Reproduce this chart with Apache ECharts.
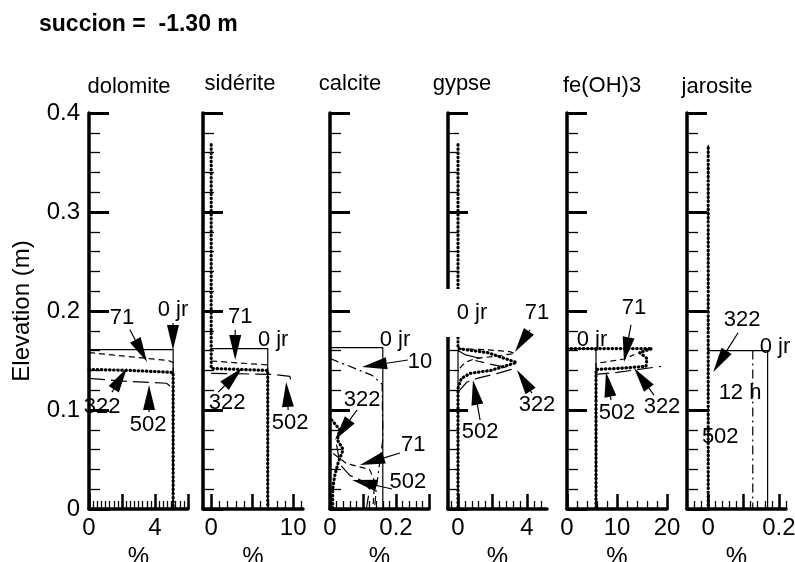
<!DOCTYPE html>
<html>
<head>
<meta charset="utf-8">
<script src="https://cdn.jsdelivr.net/npm/echarts@6/dist/echarts.min.js"></script>
<style>
html,body{margin:0;padding:0;background:#fff;}
#c{width:795px;height:562px;}
</style>
</head>
<body>
<div id="c"></div>
<script>
// ---------------- DATA ----------------
const mainTitle = 'succion =  -1.30 m';
const panelNames = ['dolomite', 'sidérite', 'calcite', 'gypse', 'fe(OH)3', 'jarosite'];
const yTicks = [0, 0.1, 0.2, 0.3, 0.4];
const xMinV = [0, -1, 0, -0.58, 0, -0.06];
const xMaxV = [6, 11.2, 0.3, 5.16, 20, 0.22];
const xMajorTicks = [[0, 2, 4, 6], [0, 5, 10], [0, 0.1, 0.2, 0.3], [0, 2, 4], [0, 10, 20], [0, 0.1, 0.2]];
const xTickLabels = [[0, 4], [0, 10], [0, 0.2], [0, 4], [0, 10, 20], [0, 0.2]];
const xMinorStep = [0.25, 1, 0.02, 0.4, 2, 0.02];

// profiles: [value %, elevation m]
const dolJr0 = [[0, 0.161], [5.1, 0.161], [5.1, 0]];
const dol71 = [[0, 0.158], [4.8, 0.150], [5.1, 0.148], [5.1, 0]];
const dol322 = [[0, 0.141], [2.5, 0.140], [5.1, 0.138], [5.1, 0]];
const dol502 = [[0, 0.132], [2.3, 0.129], [4.7, 0.127], [5.0, 0.123], [5.1, 0.118], [5.1, 0]];

const sidJr0 = [[0, 0.162], [6.9, 0.162], [6.9, 0]];
const sid71 = [[0, 0.1495], [6.9, 0.1455], [6.9, 0]];
const sid322 = [[0, 0.368], [0, 0.142], [3.5, 0.141], [6.9, 0.140], [6.9, 0]];
const sid502 = [[0, 0.137], [7.5, 0.136], [9.6, 0.134], [9.7, 0.131]];

const calJr0 = [[0, 0.163], [0.16, 0.163], [0.16, 0]];
const cal10 = [[0, 0.152], [0.128, 0.135], [0.158, 0.126], [0.16, 0.07], [0.15, 0.045], [0.14, 0.02], [0.135, 0]];
const cal71 = [[0.01, 0.056], [0.05, 0.046], [0.12, 0.04], [0.135, 0.028], [0.13, 0]];
const cal322 = [[0.005, 0.09], [0.03, 0.08], [0.022, 0.07], [0.04, 0.06], [0.025, 0.047], [0.015, 0.035], [0.008, 0.02], [0.008, 0]];
const cal502 = [[0.02, 0.065], [0.03, 0.045], [0.06, 0.034], [0.1, 0.028], [0.12, 0.02], [0.11, 0]];

const gypJr0 = [[0, 0], [0, 0.16], [0.4, 0.156], [1.3, 0.152]];
const gyp71 = [[0, 0.162], [1.5, 0.161], [3.0, 0.159], [3.3, 0.157], [2.0, 0.154], [1.0, 0.152], [0.4, 0.148], [0, 0.14]];
const gyp322 = [[0, 0.368], [0, 0.162], [1.7, 0.158], [3.4, 0.148], [3.3, 0.146], [1.9, 0.140], [0.7, 0.137], [0.2, 0.132], [0, 0.122], [0, 0]];
const gyp502 = [[0, 0.118], [0.5, 0.128], [1.1, 0.132], [2.3, 0.137], [3.1, 0.141], [2.5, 0.144], [1.7, 0.147], [1.0, 0.15]];

const feJr0 = [[0, 0.162], [5.8, 0.162], [5.8, 0]];
const fe71 = [[5.8, 0], [5.8, 0.147], [11.4, 0.1515], [13.5, 0.156]];
const fe322 = [[0, 0.162], [17.0, 0.162], [14.5, 0.158], [16.0, 0.152], [15.8, 0.144], [10, 0.142], [5.8, 0.141], [5.8, 0]];
const fe502 = [[5.8, 0], [5.8, 0.136], [10, 0.138], [18.8, 0.144]];

const jarJr0 = [[0, 0.16], [0.168, 0.16], [0.168, 0]];
const jar12h = [[0.126, 0.16], [0.126, 0]];
const jar322 = [[0, 0], [0, 0.368]];
const jar502 = [[0, 0], [0, 0.368]];

// annotations: [text, labelX, labelY, tailX, tailY, tipX, tipY]
const dolNotes = [['0 jr', 5.09, 0.201, 5.09, 0.188, 5.09, 0.1606], ['71', 2.0, 0.193, 2.48, 0.181, 3.52, 0.1485],
  ['322', 0.79, 0.103, 1.39, 0.118, 2.30, 0.1424], ['502', 3.58, 0.0848, 3.64, 0.098, 3.64, 0.1253]];
const sidNotes = [['71', 3.54, 0.194, 2.93, 0.181, 2.93, 0.1505], ['0 jr', 7.56, 0.1707],
  ['322', 1.95, 0.107, 0.85, 0.118, 3.78, 0.1424], ['502', 9.63, 0.0869, 9.39, 0.1, 9.15, 0.1283]];
const calNotes = [['0 jr', 0.197, 0.1707], ['10', 0.273, 0.1485, 0.236, 0.1505, 0.097, 0.1434],
  ['322', 0.097, 0.110, 0.082, 0.1, 0.015, 0.0697], ['71', 0.252, 0.0646, 0.212, 0.0566, 0.091, 0.0444],
  ['502', 0.236, 0.0273, 0.188, 0.0202, 0.067, 0.0293]];
const gypNotes = [['0 jr', 0.52, 0.198], ['71', 4.58, 0.198, 4.17, 0.181, 3.30, 0.1586],
  ['322', 4.58, 0.105, 4.29, 0.117, 3.42, 0.1404], ['502', 1.28, 0.0778, 1.28, 0.0899, 0.87, 0.1303]];
const feNotes = [['0 jr', 5.0, 0.1707], ['71', 13.4, 0.203, 12.8, 0.186, 11.4, 0.1485],
  ['322', 19.0, 0.103, 17.4, 0.115, 13.4, 0.1424], ['502', 10.0, 0.097, 8.8, 0.110, 7.8, 0.1384]];
const jarNotes = [['322', 0.096, 0.191, 0.0845, 0.178, 0.0141, 0.1384], ['0 jr', 0.189, 0.1636],
  ['12 h', 0.090, 0.117], ['502', 0.034, 0.0727]];

const panelSeries = [
  [['jr0', dolJr0], ['d71', dol71], ['d322', dol322], ['d502', dol502]],
  [['jr0', sidJr0], ['d71', sid71], ['d322', sid322], ['d502', sid502]],
  [['jr0', calJr0], ['dd', cal10], ['d71', cal71], ['d322', cal322], ['d502', cal502]],
  [['jr0', gypJr0], ['d71', gyp71], ['d322', gyp322], ['d502', gyp502]],
  [['jr0', feJr0], ['d71', fe71], ['d322', fe322], ['d502', fe502]],
  [['jr0', jarJr0], ['dd', jar12h], ['d322', jar322], ['d502', jar502]]
];
const panelNotes = [dolNotes, sidNotes, calNotes, gypNotes, feNotes, jarNotes];

// ---------------- LAYOUT / STYLE ----------------
const FONT = '"Liberation Sans", Arial, Helvetica, sans-serif';
const gridLeft = [89, 203, 330, 448, 567, 687];
const gridWidth = [99, 100, 99, 99, 100, 99];
const gridTop = 113, gridHeight = 396;
const titlePos = [[129, 87], [240, 84], [350, 84], [462, 84], [602, 86], [717, 87]];
// label backgrounds (white masks as in the original figure), by panel and note index
const noteMask = {'3-0': [24, 2, 2, 12]};
const styles = {
  jr0: {color: '#000', width: 1.2, type: 'solid'},
  d71: {color: '#000', width: 1.2, type: [6, 4]},
  d322: {color: '#000', width: 3.2, type: [0.5, 3.6], cap: 'round'},
  d502: {color: '#000', width: 1.2, type: [16, 6]},
  dd: {color: '#000', width: 1.2, type: [9, 4, 2, 4]}
};

function minorTicks(i) {
  const out = [];
  const s = xMinorStep[i];
  const start = Math.ceil(xMinV[i] / s - 1e-9);
  const end = Math.floor(xMaxV[i] / s + 1e-9);
  for (let k = start; k <= end; k++) out.push(+(k * s).toFixed(6));
  return out;
}

const grids = [], xAxes = [], yAxes = [], series = [], graphics = [];
for (let i = 0; i < 6; i++) {
  grids.push({left: gridLeft[i], width: gridWidth[i], top: gridTop, height: gridHeight, containLabel: false, outerBoundsMode: 'none'});
  xAxes.push({
    type: 'value', gridIndex: i, position: 'bottom', offset: 0, min: xMinV[i], max: xMaxV[i],
    axisLine: {show: true, onZero: false, lineStyle: {color: '#000', width: 3.5}},
    axisTick: {show: true, inside: true, length: 15, lineStyle: {color: '#000', width: 2.5}, customValues: xMajorTicks[i]},
    axisLabel: {show: true, color: '#000', fontSize: 24, fontFamily: FONT, margin: 7, customValues: xTickLabels[i]},
    splitLine: {show: false},
    name: '%', nameLocation: 'middle', nameGap: 35,
    nameTextStyle: {color: '#000', fontSize: 24, fontFamily: FONT}
  });
  xAxes.push({
    type: 'value', gridIndex: i, position: 'bottom', offset: 0, min: xMinV[i], max: xMaxV[i],
    axisLine: {show: false, onZero: false},
    axisTick: {show: true, inside: true, length: 8, lineStyle: {color: '#000', width: 1.3}, customValues: minorTicks(i)},
    axisLabel: {show: false},
    splitLine: {show: false}
  });
  yAxes.push({
    type: 'value', gridIndex: i, min: 0, max: 0.4, interval: 0.1, position: 'left',
    axisLine: {show: true, onZero: false, lineStyle: {color: '#000', width: 3.5}},
    axisTick: {show: true, inside: true, length: 20, lineStyle: {color: '#000', width: 3}},
    minorTick: {show: true, splitNumber: 5, length: 11, lineStyle: {color: '#000', width: 1.3}},
    axisLabel: {show: i === 0, color: '#000', fontSize: 24, fontFamily: FONT, margin: 9,
      formatter: v => yTicks.indexOf(+v.toFixed(2)) >= 0 ? (v === 0 ? '0' : v.toFixed(1)) : ''},
    splitLine: {show: false}, minorSplitLine: {show: false},
    name: i === 0 ? 'Elevation (m)' : '', nameLocation: 'middle', nameGap: 55,
    nameTextStyle: {color: '#000', fontSize: 24, fontFamily: FONT}
  });
  panelSeries[i].forEach(([st, d]) => {
    series.push({
      type: 'line', xAxisIndex: 2 * i, yAxisIndex: i, data: d, showSymbol: false, symbol: 'none',
      lineStyle: Object.assign({}, styles[st]), silent: true, animation: false, clip: false, z: st === 'd322' ? 3 : 2
    });
  });
  const notes = panelNotes[i];
  series.push({
    type: 'custom', coordinateSystem: 'cartesian2d', xAxisIndex: 2 * i, yAxisIndex: i,
    data: notes.map(a => [a[1], a[2]]), animation: false, silent: true, clip: false, z: 5,
    renderItem: (params, api) => {
      const a = notes[params.dataIndex];
      const children = [];
      const lp = api.coord([a[1], a[2]]);
      const ts = {text: a[0], x: lp[0], y: lp[1], align: 'center', verticalAlign: 'middle',
        fontSize: 22, fontFamily: FONT, fill: '#000'};
      const mask = noteMask[i + '-' + params.dataIndex];
      if (mask) { ts.backgroundColor = '#fff'; ts.padding = mask; }
      children.push({type: 'text', style: ts});
      if (a.length > 3) {
        const tl = api.coord([a[3], a[4]]), tp = api.coord([a[5], a[6]]);
        const dx = tp[0] - tl[0], dy = tp[1] - tl[1];
        const len = Math.hypot(dx, dy) || 1;
        const ux = dx / len, uy = dy / len;
        const L = 25, W = 6;
        const bx = tp[0] - ux * L, by = tp[1] - uy * L;
        if (len > L) children.push({type: 'line', shape: {x1: tl[0], y1: tl[1], x2: bx, y2: by}, style: {stroke: '#000', lineWidth: 1.2}});
        children.push({type: 'polygon', shape: {points: [[tp[0], tp[1]], [bx - uy * W, by + ux * W], [bx + uy * W, by - ux * W]]}, style: {fill: '#000'}});
      }
      return {type: 'group', children};
    }
  });
  graphics.push({type: 'text', x: titlePos[i][0], y: titlePos[i][1],
    style: {text: panelNames[i], align: 'center', verticalAlign: 'middle', fontSize: 22, fontFamily: FONT, fill: '#000'}});
}
graphics.push({type: 'text', x: 39, y: 25,
  style: {text: mainTitle, align: 'left', verticalAlign: 'middle', fontSize: 23, fontWeight: 'bold', fontFamily: FONT, fill: '#000'}});

const chart = echarts.init(document.getElementById('c'), null, {renderer: 'canvas'});
chart.setOption({
  backgroundColor: '#fff', animation: false,
  grid: grids, xAxis: xAxes, yAxis: yAxes, series: series, graphic: graphics
});
</script>
</body>
</html>
